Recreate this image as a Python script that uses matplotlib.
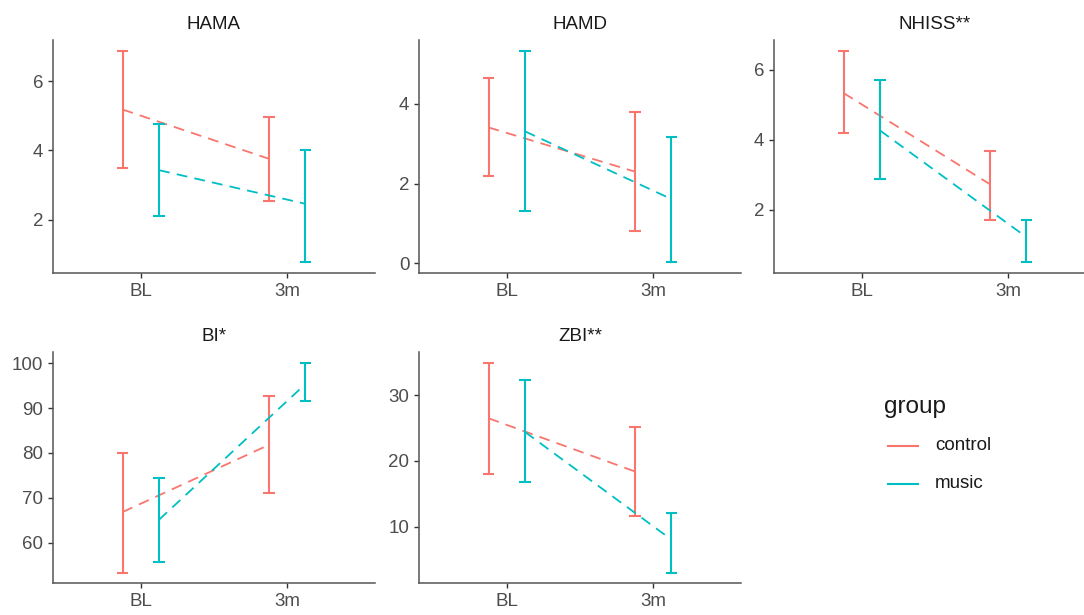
import numpy as np
import matplotlib.pyplot as plt
from matplotlib.lines import Line2D

plt.rcParams.update({"font.family": ["Liberation Sans", "DejaVu Sans"]})

# values (mean, lower and upper end of error bar)
panels = ["HAMA", "HAMD", "NHISS**", "BI*", "ZBI**"]
timepoints = ["BL", "3m"]
groups = ["control", "music"]

control_mean = [[5.18, 3.76], [3.41, 2.30], [5.33, 2.73], [66.8, 81.8], [26.5, 18.4]]
control_low = [[3.49, 2.53], [2.20, 0.80], [4.19, 1.71], [53.3, 71.1], [18.0, 11.6]]
control_high = [[6.88, 4.96], [4.65, 3.80], [6.54, 3.67], [80.0, 92.7], [35.0, 25.1]]
music_mean = [[3.43, 2.46], [3.31, 1.61], [4.26, 1.22], [65.1, 95.4], [24.4, 8.0]]
music_low = [[2.12, 0.77], [1.30, 0.02], [2.88, 0.50], [55.7, 91.5], [16.8, 3.0]]
music_high = [[4.77, 4.00], [5.34, 3.18], [5.69, 1.71], [74.3, 100.2], [32.3, 12.0]]

yticks = [[2, 4, 6], [0, 2, 4], [2, 4, 6], [60, 70, 80, 90, 100], [10, 20, 30]]

colors = {"control": "#F8766D", "music": "#00BFC4"}

W, H = 1084, 615
fig = plt.figure(figsize=(W / 100, H / 100), dpi=100)

# panel boxes in pixels
col_left = [53, 419, 774]
col_width = 322
rows = [(40, 273), (352, 583)]

dodge = 0.125
cap = 0.04
x = np.arange(1, len(timepoints) + 1)

for i, name in enumerate(panels):
    r, c = divmod(i, 3)
    top, bot = rows[r]
    ax = fig.add_axes([col_left[c] / W, (H - bot) / H, col_width / W, (bot - top) / H])

    series = {
        "control": (control_mean[i], control_low[i], control_high[i], -dodge),
        "music": (music_mean[i], music_low[i], music_high[i], dodge),
    }
    for g in groups:
        m, lo, hi, off = series[g]
        xs = x + off
        col = colors[g]
        ax.vlines(xs, lo, hi, color=col, lw=1.5)
        ax.hlines(lo, xs - cap, xs + cap, color=col, lw=1.5)
        ax.hlines(hi, xs - cap, xs + cap, color=col, lw=1.5)
        ax.plot(xs, m, color=col, lw=1.3, linestyle=(0, (6, 4)))

    ymin = min(min(control_low[i]), min(music_low[i]))
    ymax = max(max(control_high[i]), max(music_high[i]))
    pad = (ymax - ymin) * 0.05
    ax.set_ylim(ymin - pad, ymax + pad)
    ax.set_xlim(0.4, 2.6)
    ax.set_xticks(x)
    ax.set_xticklabels(timepoints)
    ax.set_yticks(yticks[i])

    for s in ["top", "right"]:
        ax.spines[s].set_visible(False)
    for s in ["left", "bottom"]:
        ax.spines[s].set_color("#555555")
        ax.spines[s].set_linewidth(1.1)
    ax.tick_params(length=3.5, width=1.0, color="#333333", labelsize=13.5,
                   labelcolor="#4D4D4D", pad=3.5)
    ax.set_title(name, fontsize=13.5, color="#1A1A1A", pad=8)

# legend
fig.text(884 / W, 1 - 407 / H, "group", fontsize=17.5, color="#1A1A1A",
         ha="left", va="center")
for g, yk in zip(groups, [446, 484]):
    fig.add_artist(Line2D([888 / W, 918 / W], [1 - yk / H, 1 - yk / H],
                          color=colors[g], lw=1.5, transform=fig.transFigure))
    fig.text(935 / W, 1 - yk / H, g, fontsize=13.5, color="#1A1A1A",
             ha="left", va="center")

fig.savefig("out.png", dpi=100)
